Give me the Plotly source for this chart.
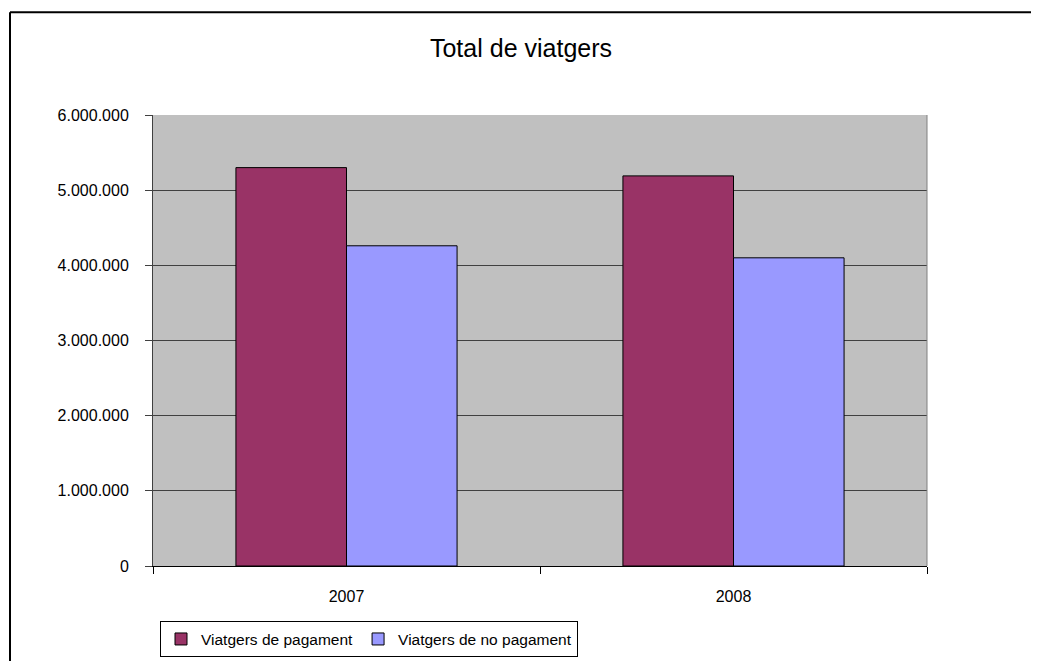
import plotly.graph_objects as go

years = ["2007", "2008"]
pagament = [5300000, 5190000]
no_pagament = [4260000, 4100000]
series_names = ["Viatgers de pagament", "Viatgers de no pagament"]
y_ticks = [0, 1000000, 2000000, 3000000, 4000000, 5000000, 6000000]

FONT = "Liberation Sans, Arial, sans-serif"

fig = go.Figure()
fig.add_trace(go.Bar(x=years, y=pagament, name=series_names[0],
                     marker=dict(color="#993366", line=dict(color="black", width=1))))
fig.add_trace(go.Bar(x=years, y=no_pagament, name=series_names[1],
                     marker=dict(color="#9999FF", line=dict(color="black", width=1))))

OFF = 8  # page body margin
W, H = 1039, 661
L, T = 153 - OFF, 115 - OFF
R = W - (927 - OFF)
B = H - (571 - OFF)
pw = W - L - R
ph = H - T - B

def px_x(x):
    return (x - OFF - L) / pw

def px_y(y):
    return (H - B - (y - OFF)) / ph

fig.update_layout(
    width=W, height=H,
    margin=dict(l=L, r=R, t=T, b=B),
    paper_bgcolor="white",
    plot_bgcolor="#C0C0C0",
    barmode="group",
    bargap=0.4286,
    bargroupgap=0,
    separators=",.",
    font=dict(family=FONT, size=16, color="black"),
    title=dict(text="Total de viatgers", x=(521 - OFF) / W, xanchor="center",
               y=1 - (48 - OFF) / H, yanchor="middle", yref="container",
               font=dict(family=FONT, size=25, color="black")),
    legend=dict(orientation="h", x=px_x(160), xanchor="left", y=px_y(627), yanchor="top",
                bordercolor="black", borderwidth=1, bgcolor="white",
                font=dict(family=FONT, size=15.5, color="black"),
                itemwidth=30, traceorder="normal", tracegroupgap=0),
    showlegend=True,
)

fig.update_xaxes(
    showline=True, linecolor="black", linewidth=1, mirror=False,
    ticks="outside", ticklen=7, tickcolor="black", tickson="boundaries",
    ticklabelstandoff=16,
    showgrid=False, tickfont=dict(family=FONT, size=16, color="black"),
)
fig.update_yaxes(
    range=[0, 6000000], tickvals=y_ticks, tickformat=",d",
    showline=True, linecolor="#404040", linewidth=1, mirror=False,
    ticks="outside", ticklen=7, tickcolor="#404040",
    ticklabelstandoff=13,
    showgrid=True, gridcolor="#404040", gridwidth=1,
    zeroline=False,
    tickfont=dict(family=FONT, size=16, color="black"),
)

# plot area border (right side)
fig.add_shape(type="line", xref="paper", yref="paper", x0=1, x1=1, y0=0, y1=1,
              line=dict(color="#808080", width=1))
# outer chart border: top and left edges (right/bottom lie outside the picture)
fig.add_shape(type="line", xref="paper", yref="paper",
              x0=px_x(10), x1=px_x(W + 60), y0=px_y(11), y1=px_y(11),
              line=dict(color="black", width=2), layer="above")
fig.add_shape(type="line", xref="paper", yref="paper",
              x0=px_x(10), x1=px_x(10), y0=px_y(11), y1=px_y(H + 60),
              line=dict(color="black", width=2), layer="above")

fig.write_html(
    "out.html",
    post_script="document.documentElement.style.overflow='hidden';"
                "document.body.style.overflow='hidden';",
)
